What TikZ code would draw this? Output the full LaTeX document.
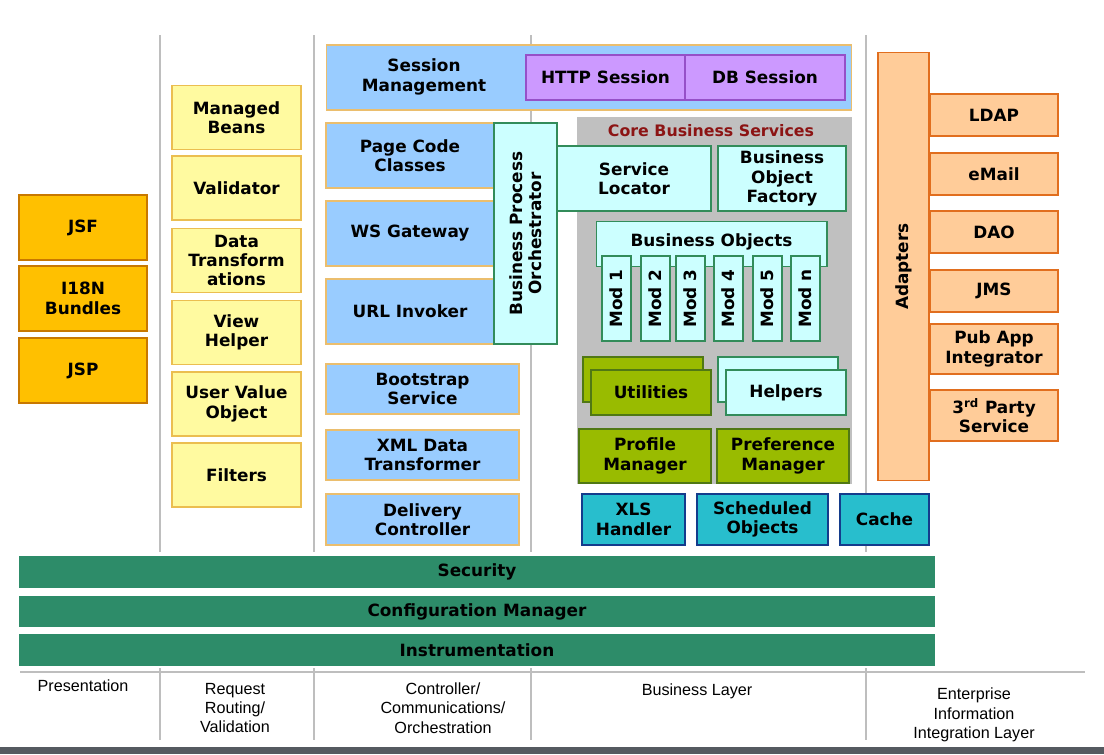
\documentclass[tikz,border=0pt]{standalone}
\usepackage{fontspec}
\setmainfont{DejaVu Sans}
\newfontfamily\lab{Liberation Sans}
\definecolor{cpres}{RGB}{255,192,0}\definecolor{dpres}{RGB}{200,120,0}
\definecolor{cyel}{RGB}{255,250,160}\definecolor{dyel}{RGB}{235,190,80}
\definecolor{cblu}{RGB}{153,204,255}\definecolor{dblu}{RGB}{235,190,110}
\definecolor{cpur}{RGB}{204,153,255}\definecolor{dpur}{RGB}{150,80,200}
\definecolor{ccya}{RGB}{204,255,255}\definecolor{dcya}{RGB}{50,140,90}
\definecolor{cgrn}{RGB}{153,187,0}\definecolor{dgrn}{RGB}{80,120,20}
\definecolor{ctea}{RGB}{40,190,205}\definecolor{dtea}{RGB}{20,60,140}
\definecolor{cora}{RGB}{255,204,153}\definecolor{dora}{RGB}{225,110,30}
\definecolor{cbar}{RGB}{45,140,105}\definecolor{csep}{RGB}{190,190,190}
\definecolor{ccore}{RGB}{192,192,192}\definecolor{ctitle}{RGB}{140,20,20}
\definecolor{cfoot}{RGB}{85,90,96}
\begin{document}
\begin{tikzpicture}[x=0.02cm,y=-0.02cm,
 bx/.style={draw,line width=0.6pt,font=\fontsize{9.6}{11}\selectfont\bfseries,align=center,inner sep=0pt},
 txt/.style={font=\fontsize{9.6}{11}\selectfont\bfseries,align=center,inner sep=0pt},
 pres/.style={bx,fill=cpres,draw=dpres},
 yel/.style={bx,fill=cyel,draw=dyel},
 blu/.style={bx,fill=cblu,draw=dblu},
 pur/.style={bx,fill=cpur,draw=dpur},
 cya/.style={bx,fill=ccya,draw=dcya},
 grn/.style={bx,fill=cgrn,draw=dgrn},
 tea/.style={bx,fill=ctea,draw=dtea},
 ora/.style={bx,fill=cora,draw=dora},
 bar/.style={bx,fill=cbar,draw=none},
 sep/.style={draw=csep,line width=1pt},
 lbl/.style={font=\lab\fontsize{9.2}{11}\selectfont,align=center}]
\useasboundingbox (0,0) rectangle (1104,754);
\fill[white] (0,0) rectangle (1104,754);
% separators
\foreach \x/\n in {160/a,314/b,531/c,866/d}{
 \coordinate (t\n) at (\x,35); \coordinate (m\n) at (\x,552);
 \draw[sep] (t\n) -- (m\n);
 \coordinate (u\n) at (\x,668); \coordinate (v\n) at (\x,740);
 \draw[sep] (u\n) -- (v\n);}
\coordinate (hl) at (20,672); \coordinate (hr) at (1085,672);
\draw[sep] (hl) -- (hr);
% presentation
\node[pres,minimum width=2.56cm,minimum height=1.3cm] (jsf) at (83,227.5) {JSF};
\node[pres,minimum width=2.56cm,minimum height=1.3cm] (i18n) at (83,298.5) {I18N\\Bundles};
\node[pres,minimum width=2.56cm,minimum height=1.3cm] (jsp) at (83,370.5) {JSP};
% yellow
\foreach \n/\y/\t in {mb/117.5/{Managed\\Beans},val/188/Validator,dt/260.5/{Data\\Transform\\ations},vh/332.5/{View\\Helper},uvo/404/{User Value\\Object},fil/475/Filters}
 \node[yel,minimum width=2.58cm,minimum height=1.28cm] (\n) at (236.5,\y) {\t};
% session
\node[blu,minimum width=10.52cm,minimum height=1.3cm] (sess) at (589,77.5) {};
\node[txt] (sesst) at (424,77) {Session\\Management};
\node[pur,minimum width=3.18cm,minimum height=0.9cm] (http) at (605.5,77.5) {HTTP Session};
\node[pur,minimum width=3.2cm,minimum height=0.9cm] (dbs) at (765,77.5) {DB Session};
% blue controller
\node[blu,minimum width=3.36cm,minimum height=1.3cm] (pcc) at (410,155.5) {Page Code\\Classes};
\node[blu,minimum width=3.36cm,minimum height=1.3cm] (ws) at (410,233.5) {WS Gateway};
\node[blu,minimum width=3.86cm,minimum height=1.3cm] (url) at (422.5,311.5) {};
\node[txt] (urlt) at (410,311.5) {URL Invoker};
\node[blu,minimum width=3.86cm,minimum height=1cm] (bs) at (422.5,389) {Bootstrap\\Service};
\node[blu,minimum width=3.86cm,minimum height=1cm] (xml) at (422.5,455) {XML Data\\Transformer};
\node[blu,minimum width=3.86cm,minimum height=1.02cm] (dc) at (422.5,519.5) {Delivery\\Controller};
% core
\fill[ccore] (577,117) rectangle (852,484);
\node[font=\fontsize{9}{10}\selectfont\bfseries,text=ctitle] (cbs) at (711,131) {Core Business Services};
\node[cya,minimum width=3.08cm,minimum height=1.3cm] (sl) at (634,178.5) {Service\\Locator};
\node[cya,minimum width=1.26cm,minimum height=4.42cm] (bpo) at (525.5,233.5) {};
\node[txt,rotate=90] (bpot) at (525.5,233.5) {Business Process\\Orchestrator};
\node[cya,minimum width=2.56cm,minimum height=1.3cm] (bof) at (782,178.5) {Business\\Object\\Factory};
\node[cya,minimum width=4.62cm,minimum height=0.9cm,anchor=north] (bo) at (711.5,221) {};
\node[txt] (bot) at (711.5,242) {Business Objects};
\foreach \n/\x/\t in {m1/616.5/Mod 1,m2/655.5/Mod 2,m3/690.5/Mod 3,m4/728.5/Mod 4,m5/767.5/Mod 5,mn/805.5/Mod n}{
 \node[cya,minimum width=0.58cm,minimum height=1.7cm] (\n) at (\x,298.5) {};
 \node[txt,rotate=90] (\n t) at (\x,298.5) {\t};}
\node[grn,minimum width=2.4cm,minimum height=0.9cm] (ub) at (643,379.5) {};
\node[grn,minimum width=2.4cm,minimum height=0.9cm] (ut) at (651,392.5) {Utilities};
\node[cya,minimum width=2.4cm,minimum height=0.9cm] (hb) at (778,379.5) {};
\node[cya,minimum width=2.4cm,minimum height=0.9cm] (ht) at (786,392.5) {Helpers};
\node[grn,minimum width=2.64cm,minimum height=1.08cm] (pm) at (645,456) {Profile\\Manager};
\node[grn,minimum width=2.64cm,minimum height=1.08cm] (prm) at (783,456) {Preference\\Manager};
\node[tea,minimum width=2.06cm,minimum height=1.02cm] (xls) at (633.5,519.5) {XLS\\Handler};
\node[tea,minimum width=2.62cm,minimum height=1.02cm] (sch) at (762.5,519.5) {Scheduled\\Objects};
\node[tea,minimum width=1.78cm,minimum height=1.02cm] (cache) at (884.5,519.5) {Cache};
% EIS
\node[ora,minimum width=1.02cm,minimum height=8.58cm] (ad) at (903.5,266.5) {};
\node[txt,rotate=90] (adt) at (903.5,266.5) {Adapters};
\foreach \n/\y/\h/\t in {ldap/115/0.84/LDAP,email/174/0.84/eMail,dao/232/0.84/DAO,jms/291/0.84/JMS,pub/349/1/{Pub App\\Integrator},tp/415.5/1.02/{3\textsuperscript{rd} Party\\Service}}
 \node[ora,minimum width=2.56cm,minimum height=\h cm] (\n) at (994,\y) {\t};
% bars
\node[bar,minimum width=18.32cm,minimum height=0.64cm] (sec) at (477,572) {Security};
\node[bar,minimum width=18.32cm,minimum height=0.62cm] (cfg) at (477,611.5) {Configuration Manager};
\node[bar,minimum width=18.32cm,minimum height=0.64cm] (ins) at (477,650) {Instrumentation};
% labels
\node[lbl] (l1) at (83,686) {Presentation};
\node[lbl] (l2) at (235,708) {Request\\Routing/\\Validation};
\node[lbl] (l3) at (443,708) {Controller/\\Communications/\\Orchestration};
\node[lbl] (l4) at (697,691) {Business Layer};
\node[lbl] (l5) at (974,715) {Enterprise\\Information\\Integration Layer};
\fill[cfoot] (0,747) rectangle (1104,754);
\end{tikzpicture}
\end{document}
